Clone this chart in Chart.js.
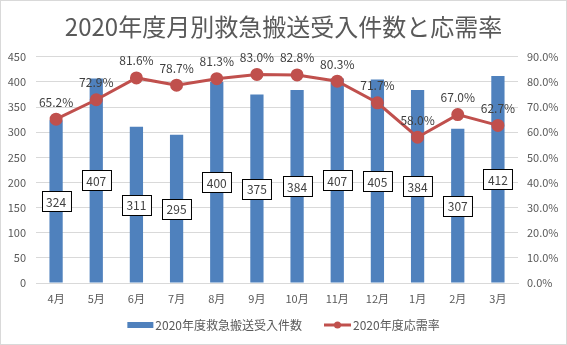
<!DOCTYPE html>
<html>
<head>
<meta charset="utf-8">
<script src="https://cdn.jsdelivr.net/npm/chart.js@4.4.1/dist/chart.umd.min.js"></script>
<style>
  html, body { margin: 0; padding: 0; background: #fff; }
  #wrap { width: 567px; height: 345px; position: relative; }
</style>
</head>
<body>
<div id="wrap"><canvas id="grafico" width="567" height="345"></canvas></div>
<script>
// データ
const months = ['4月', '5月', '6月', '7月', '8月', '9月', '10月', '11月', '12月', '1月', '2月', '3月'];
const cases = [324, 407, 311, 295, 400, 375, 384, 407, 405, 384, 307, 412];
const rate = [65.2, 72.9, 81.6, 78.7, 81.3, 83.0, 82.8, 80.3, 71.7, 58.0, 67.0, 62.7];
const titleText = '2020年度月別救急搬送受入件数と応需率';
const casesLabel = '2020年度救急搬送受入件数';
const rateLabel = '2020年度応需率';

const FONT = '"Noto Sans CJK JP", "Noto Sans", sans-serif';
const BLUE = '#4F81BD';
const RED = '#C0504D';
const TEXT = '#595959';

// 枠線と凡例
const framePlugin = {
    id: 'frame',
    beforeDraw(chart) {
        const c = chart.ctx;
        c.save();
        c.fillStyle = '#fff';
        c.fillRect(0, 0, chart.width, chart.height);
        c.restore();
    },
    afterDraw(chart) {
        const c = chart.ctx;
        c.save();
        c.strokeStyle = '#d9d9d9';
        c.lineWidth = 1;
        c.strokeRect(0.5, 0.5, chart.width - 1, chart.height - 1);

        // 凡例
        const y = 325;
        c.font = '12px ' + FONT;
        c.textBaseline = 'middle';
        c.fillStyle = TEXT;
        const w1 = c.measureText(casesLabel).width;
        const w2 = c.measureText(rateLabel).width;
        const total = 26 + 2 + w1 + 22 + 27 + 2 + w2;
        let x = (chart.width - total) / 2;
        c.fillStyle = BLUE;
        c.fillRect(x, y - 3, 26, 6);
        x += 28;
        c.fillStyle = TEXT;
        c.fillText(casesLabel, x, y);
        x += w1 + 22;
        c.strokeStyle = RED;
        c.lineWidth = 3;
        c.beginPath();
        c.moveTo(x, y);
        c.lineTo(x + 27, y);
        c.stroke();
        c.fillStyle = RED;
        c.beginPath();
        c.arc(x + 13.5, y, 3.5, 0, Math.PI * 2);
        c.fill();
        x += 29;
        c.fillStyle = TEXT;
        c.fillText(rateLabel, x, y);
        c.restore();
    }
};

// データラベル
const labelPlugin = {
    id: 'valueLabels',
    afterDatasetsDraw(chart) {
        const c = chart.ctx;
        c.save();
        c.font = '12px ' + FONT;
        c.textAlign = 'center';
        c.textBaseline = 'middle';

        const lineMeta = chart.getDatasetMeta(0);
        lineMeta.data.forEach((el, i) => {
            c.fillStyle = '#404040';
            c.fillText(rate[i].toFixed(1) + '%', el.x, el.y - 17);
        });

        const barMeta = chart.getDatasetMeta(1);
        barMeta.data.forEach((el, i) => {
            const txt = String(cases[i]);
            const cy = (el.y + el.base) / 2;
            const w = c.measureText(txt).width + 9;
            const h = 20;
            const bx = Math.round(el.x - w / 2) + 0.5;
            const by = Math.round(cy - h / 2) + 0.5;
            c.fillStyle = '#fff';
            c.fillRect(bx, by, w, h);
            c.strokeStyle = '#000';
            c.lineWidth = 1;
            c.strokeRect(bx, by, w, h);
            c.fillStyle = '#404040';
            c.fillText(txt, el.x, cy + 1);
        });
        c.restore();
    }
};

const ctx = document.getElementById('grafico').getContext('2d');
const grafico = new Chart(ctx, {
    type: 'bar',
    data: {
        labels: months,
        datasets: [{
            type: 'line',
            label: rateLabel,
            data: rate,
            yAxisID: 'yRate',
            borderColor: RED,
            backgroundColor: RED,
            borderWidth: 3,
            pointRadius: 5,
            pointHoverRadius: 5,
            pointBackgroundColor: RED,
            pointBorderColor: RED,
            tension: 0,
            order: 0
        }, {
            type: 'bar',
            label: casesLabel,
            data: cases,
            yAxisID: 'y',
            backgroundColor: BLUE,
            categoryPercentage: 1,
            barPercentage: 0.33,
            order: 1
        }]
    },
    options: {
        responsive: false,
        animation: false,
        devicePixelRatio: 1,
        layout: { padding: { left: 0, right: 0, top: 0, bottom: 0 } },
        plugins: {
            legend: { display: false },
            tooltip: { enabled: false },
            title: {
                display: true,
                text: titleText,
                color: TEXT,
                font: { family: FONT, size: 24, weight: 'normal' },
                padding: { top: 12, bottom: 16 }
            }
        },
        scales: {
            x: {
                grid: { display: false, drawTicks: false },
                border: { display: true, color: '#d9d9d9' },
                ticks: { color: TEXT, font: { family: FONT, size: 11 }, padding: 9, maxRotation: 0 },
                afterFit: s => { s.height = 62; }
            },
            y: {
                position: 'left',
                min: 0,
                max: 450,
                ticks: { stepSize: 50, color: TEXT, font: { family: FONT, size: 11 }, padding: 10 },
                grid: { color: '#d9d9d9', drawTicks: false },
                border: { display: false },
                afterFit: s => { s.width = 36; }
            },
            yRate: {
                position: 'right',
                min: 0,
                max: 90,
                ticks: {
                    stepSize: 10,
                    color: TEXT,
                    font: { family: FONT, size: 11 },
                    padding: 9,
                    callback: v => v.toFixed(1) + '%'
                },
                grid: { display: false, drawTicks: false },
                border: { display: false },
                afterFit: s => { s.width = 49; }
            }
        }
    },
    plugins: [framePlugin, labelPlugin]
});
</script>
</body>
</html>
